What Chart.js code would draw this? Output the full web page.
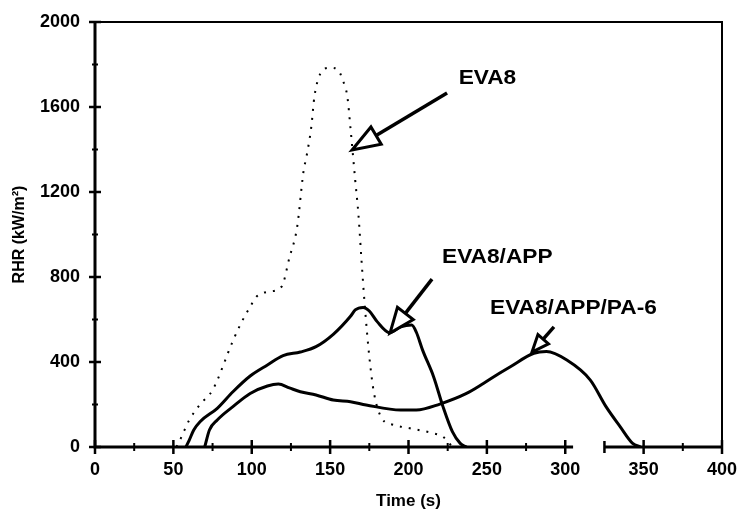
<!DOCTYPE html>
<html>
<head>
<meta charset="utf-8">
<script src="https://cdn.jsdelivr.net/npm/chart.js@4/dist/chart.umd.min.js"></script>
<style>
html,body{margin:0;padding:0;background:#fff;}
#wrap{width:738px;height:512px;position:relative;}
</style>
</head>
<body>
<div id="wrap"><canvas id="c" width="738" height="512"></canvas></div>
<script>
// ---- data (time in s, RHR in kW/m²) ----
const eva8Time = [52, 55, 60, 67, 75, 88, 93, 99, 103, 110, 119, 124, 129, 133, 135, 138, 140, 145, 150, 155, 158, 161, 163, 166, 168, 170, 172, 175, 178, 183, 190, 201, 216, 222, 228];
const eva8RHR  = [0, 45, 125, 200, 268, 500, 580, 660, 707, 730, 754, 890, 1037, 1296, 1370, 1507, 1650, 1770, 1785, 1775, 1727, 1648, 1500, 1256, 1100, 880, 676, 425, 253, 135, 105, 88, 64, 48, 0];

const appTime = [58, 60, 63, 67, 78, 88, 99, 110, 120, 131, 141, 152, 163, 166, 171, 175, 180, 188, 195, 202, 205, 209, 216, 222, 228, 233, 237];
const appRHR  = [0, 30, 80, 119, 182, 260, 334, 386, 430, 447, 472, 530, 615, 645, 657, 640, 590, 538, 565, 574, 540, 456, 331, 190, 72, 17, 0];

const pa6Time = [70, 73, 78, 88, 99, 110, 117, 124, 131, 141, 152, 163, 173, 195, 205, 220, 237, 248, 258, 265, 280, 288, 301, 316, 326, 335, 343, 348];
const pa6RHR  = [0, 80, 127, 190, 252, 287, 296, 278, 260, 245, 221, 213, 198, 174, 174, 202, 252, 300, 347, 378, 441, 449, 409, 315, 190, 96, 17, 0];

const seriesNames = ['EVA8', 'EVA8/APP', 'EVA8/APP/PA-6'];
const xTickLabels = [0, 50, 100, 150, 200, 250, 300, 350, 400];
const yTickLabels = [0, 400, 800, 1200, 1600, 2000];
const xMinorStep = 25;
const yMinorStep = 200;
const xAxisGap = [305, 325];

// annotation placement (data coordinates)
const notes = [
  {text: seriesNames[0], tx: 232, ty: 1736, from: [224.6, 1666], to: [164.0, 1398], head: 28, wid: 20},
  {text: seriesNames[1], tx: 221.4, ty: 894, from: [215.0, 790], to: [188.2, 536], head: 25, wid: 20},
  {text: seriesNames[2], tx: 252.0, ty: 654, from: [292.8, 565], to: [278.8, 447], head: 17, wid: 14}
];

function pts(xs, ys){ return xs.map((t,i)=>({x:t, y:ys[i]})); }

const FONT = "'Liberation Sans', Arial, sans-serif";

const framePlugin = {
  id: 'frame',
  afterDatasetsDraw(chart){
    const {ctx, chartArea:a, scales:{x, y}} = chart;
    ctx.save();
    ctx.strokeStyle = '#000';
    ctx.lineCap = 'butt';
    // top & right
    ctx.lineWidth = 2;
    ctx.beginPath();
    ctx.moveTo(a.left, a.top); ctx.lineTo(a.right, a.top); ctx.lineTo(a.right, a.bottom);
    ctx.stroke();
    // left & bottom
    ctx.lineWidth = 3;
    ctx.beginPath();
    ctx.moveTo(a.left, a.top - 1); ctx.lineTo(a.left, a.bottom);
    ctx.lineTo(x.getPixelForValue(xAxisGap[0]), a.bottom);
    ctx.moveTo(x.getPixelForValue(xAxisGap[1]), a.bottom); ctx.lineTo(a.right, a.bottom);
    ctx.stroke();
    // gap end cap
    ctx.lineWidth = 2.5;
    ctx.beginPath();
    const gx = x.getPixelForValue(xAxisGap[1]);
    ctx.moveTo(gx, a.bottom - 6); ctx.lineTo(gx, a.bottom + 6);
    ctx.stroke();
    // x ticks
    for (let v = 0; v <= 400; v += xMinorStep) {
      if (v > xAxisGap[0] && v <= xAxisGap[1]) continue;
      const px = x.getPixelForValue(v);
      const major = v % 50 === 0;
      const L = major ? 7 : 4;
      ctx.lineWidth = major ? 2.5 : 2;
      ctx.beginPath(); ctx.moveTo(px, a.bottom - L); ctx.lineTo(px, a.bottom + L); ctx.stroke();
    }
    // y ticks
    for (let v = 0; v <= 2000; v += yMinorStep) {
      const py = y.getPixelForValue(v);
      const major = v % 400 === 0;
      const L = major ? 6 : 3;
      ctx.lineWidth = major ? 2.5 : 2;
      ctx.beginPath(); ctx.moveTo(a.left - L, py); ctx.lineTo(a.left + L, py); ctx.stroke();
    }
    // annotations
    ctx.fillStyle = '#000';
    ctx.font = 'bold 21px ' + FONT;
    ctx.textBaseline = 'middle';
    ctx.textAlign = 'left';
    notes.forEach(n => {
      const tx = x.getPixelForValue(n.tx), ty = y.getPixelForValue(n.ty);
      ctx.save();
      ctx.translate(tx, ty); ctx.scale(1.08, 1);
      ctx.fillText(n.text, 0, 0);
      ctx.restore();
      const x0 = x.getPixelForValue(n.from[0]), y0 = y.getPixelForValue(n.from[1]);
      const x1 = x.getPixelForValue(n.to[0]), y1 = y.getPixelForValue(n.to[1]);
      const ang = Math.atan2(y1 - y0, x1 - x0);
      const bx = x1 - n.head * Math.cos(ang), by = y1 - n.head * Math.sin(ang);
      ctx.lineWidth = 3.5;
      ctx.beginPath(); ctx.moveTo(x0, y0); ctx.lineTo(bx, by); ctx.stroke();
      const ox = -Math.sin(ang) * n.wid / 2, oy = Math.cos(ang) * n.wid / 2;
      ctx.beginPath();
      ctx.moveTo(x1, y1); ctx.lineTo(bx + ox, by + oy); ctx.lineTo(bx - ox, by - oy); ctx.closePath();
      ctx.fillStyle = '#fff'; ctx.fill();
      ctx.lineWidth = 3; ctx.lineJoin = 'miter'; ctx.stroke();
      ctx.fillStyle = '#000';
    });
    ctx.restore();
  }
};

new Chart(document.getElementById('c'), {
  type: 'scatter',
  data: {
    datasets: [
      {label: seriesNames[0], data: pts(eva8Time, eva8RHR), showLine: true, borderColor: '#000', borderWidth: 2, borderDash: [2, 7], pointRadius: 0, cubicInterpolationMode: 'monotone'},
      {label: seriesNames[1], data: pts(appTime, appRHR), showLine: true, borderColor: '#000', borderWidth: 3, pointRadius: 0, cubicInterpolationMode: 'monotone'},
      {label: seriesNames[2], data: pts(pa6Time, pa6RHR), showLine: true, borderColor: '#000', borderWidth: 3, pointRadius: 0, cubicInterpolationMode: 'monotone'}
    ]
  },
  options: {
    responsive: false,
    animation: false,
    devicePixelRatio: 1,
    layout: {padding: {left: 0, top: 22, right: 16, bottom: 0}},
    plugins: {legend: {display: false}, tooltip: {enabled: false}},
    scales: {
      x: {
        type: 'linear', min: 0, max: 400,
        afterBuildTicks: s => { s.ticks = xTickLabels.map(v => ({value: v})); },
        afterFit: s => { s.height = 65; s.paddingLeft = 0; s.paddingRight = 0; },
        grid: {display: false, drawTicks: false},
        border: {display: false},
        ticks: {color: '#000', padding: 12, maxRotation: 0, callback: v => String(v), font: {family: FONT, size: 18, weight: 'bold'}},
        title: {display: true, text: 'Time (s)', color: '#000', padding: {top: 0, bottom: 0}, font: {family: FONT, size: 17, weight: 'bold'}}
      },
      y: {
        type: 'linear', min: 0, max: 2000,
        afterBuildTicks: s => { s.ticks = yTickLabels.map(v => ({value: v})); },
        afterFit: s => { s.width = 95; s.paddingTop = 0; s.paddingBottom = 0; },
        grid: {display: false, drawTicks: false},
        border: {display: false},
        ticks: {color: '#000', padding: 15, callback: v => String(v), font: {family: FONT, size: 18, weight: 'bold'}},
        title: {display: true, text: 'RHR (kW/m²)', color: '#000', padding: {top: 10, bottom: 0}, font: {family: FONT, size: 16, weight: 'bold'}}
      }
    }
  },
  plugins: [framePlugin]
});
</script>
</body>
</html>
